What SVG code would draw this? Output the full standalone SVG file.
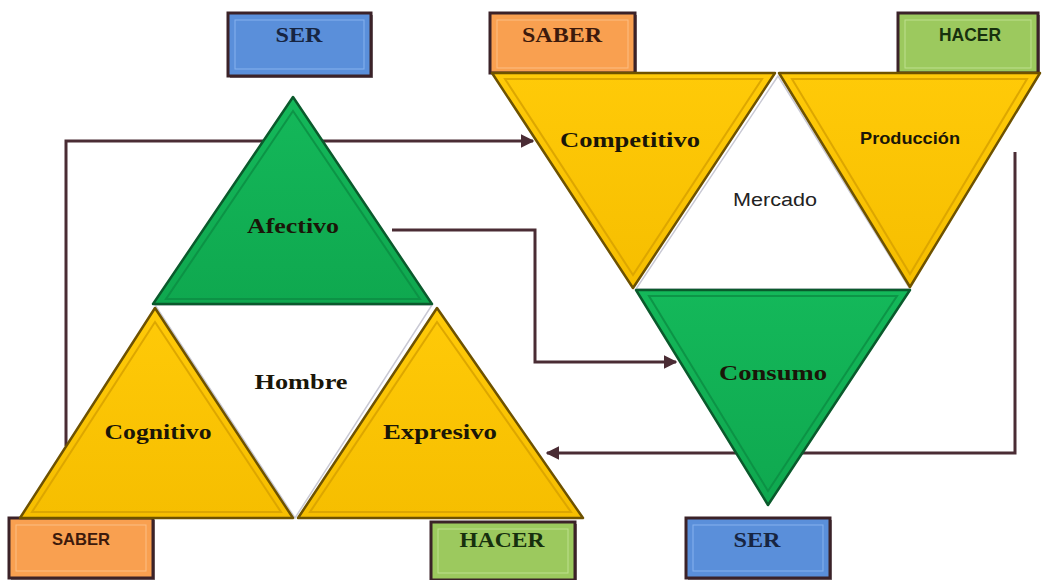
<svg xmlns="http://www.w3.org/2000/svg" width="1047" height="580" viewBox="0 0 1047 580">
<defs>
  <marker id="arr" viewBox="0 0 10 10" refX="9" refY="5" markerWidth="4.5" markerHeight="4.5" orient="auto" markerUnits="strokeWidth">
    <path d="M0,0 L10,5 L0,10 z" fill="#4a2c34"/>
  </marker>
  <linearGradient id="gY" x1="0" y1="0" x2="0" y2="1">
    <stop offset="0" stop-color="#FFCA08"/>
    <stop offset="1" stop-color="#F6BE00"/>
  </linearGradient>
  <linearGradient id="gG" x1="0" y1="0" x2="0" y2="1">
    <stop offset="0" stop-color="#14B85A"/>
    <stop offset="1" stop-color="#0FA84F"/>
  </linearGradient>
</defs>
<style>
  .con{fill:none;stroke:#4a2c34;stroke-width:3}
  .yel{fill:url(#gY);stroke:#6e5200;stroke-width:2.5;stroke-linejoin:round}
  .grn{fill:url(#gG);stroke:#0a5a2c;stroke-width:2.5;stroke-linejoin:round}
  .yin{fill:none;stroke:#D9A300;stroke-width:2;opacity:0.9}
  .gin{fill:none;stroke:#0B8C42;stroke-width:2;opacity:0.8}
  .wht{fill:#ffffff;stroke:#c9c9d4;stroke-width:1.5}
  .box{stroke:#3b2228;stroke-width:3}
  .sh{fill:#2a1a20;opacity:0.55}
  .blue{fill:#5A8FDA}
  .orng{fill:#F9A050}
  .lgrn{fill:#9CC95E}
  .inb{fill:none;stroke:#86B2EE;stroke-width:1}
  .ino{fill:none;stroke:#FCBE84;stroke-width:1}
  .ing{fill:none;stroke:#BEE08E;stroke-width:1}
  .serif{font-family:"Liberation Serif","Times New Roman",serif;font-weight:bold}
  .sans{font-family:"Liberation Sans",Arial,sans-serif;font-weight:bold}
  .lbl{fill:#1a1608;text-anchor:middle}
  .tser{fill:#172541;text-anchor:middle}
  .tsab{fill:#3d1a0c;text-anchor:middle}
  .thac{fill:#17300e;text-anchor:middle}
</style>

<g id="connectors">
  <polyline class="con" points="66,446 66,141 533,141" marker-end="url(#arr)"/>
  <polyline class="con" points="392,230 535,230 535,362 676,362" marker-end="url(#arr)"/>
  <polyline class="con" points="1015,152 1015,453 547,453" marker-end="url(#arr)"/>
</g>

<g id="box-ser-top">
  <rect class="sh" x="230" y="15" width="143" height="63"/>
  <rect class="box blue" x="228" y="13" width="143" height="63"/>
  <rect class="inb" x="235" y="20" width="129" height="49"/>
  <text class="serif tser" x="299" y="42" font-size="20" textLength="47" lengthAdjust="spacingAndGlyphs">SER</text>
</g>
<g id="box-saber-top">
  <rect class="sh" x="492" y="15" width="145" height="60"/>
  <rect class="box orng" x="490" y="13" width="145" height="60"/>
  <rect class="ino" x="497" y="20" width="131" height="48"/>
  <text class="serif tsab" x="562" y="42" font-size="20" textLength="80" lengthAdjust="spacingAndGlyphs">SABER</text>
</g>
<g id="box-hacer-top">
  <rect class="sh" x="900" y="15" width="140" height="60"/>
  <rect class="box lgrn" x="898" y="13" width="140" height="60"/>
  <rect class="ing" x="905" y="20" width="126" height="48"/>
  <text class="sans thac" x="970" y="41" font-size="18" textLength="62" lengthAdjust="spacingAndGlyphs">HACER</text>
</g>
<g id="box-saber-bottom">
  <rect class="sh" x="11" y="520" width="144" height="60"/>
  <rect class="box orng" x="9" y="518" width="144" height="60"/>
  <rect class="ino" x="16" y="525" width="130" height="46"/>
  <text class="sans tsab" x="81" y="545" font-size="17" textLength="58" lengthAdjust="spacingAndGlyphs">SABER</text>
</g>
<g id="box-hacer-bottom">
  <rect class="sh" x="433" y="524" width="144" height="58"/>
  <rect class="box lgrn" x="431" y="522" width="144" height="58"/>
  <rect class="ing" x="438" y="529" width="130" height="44"/>
  <text class="serif thac" x="502" y="547" font-size="21" textLength="85" lengthAdjust="spacingAndGlyphs">HACER</text>
</g>
<g id="box-ser-bottom">
  <rect class="sh" x="688" y="520" width="144" height="60"/>
  <rect class="box blue" x="686" y="518" width="144" height="60"/>
  <rect class="inb" x="693" y="525" width="130" height="46"/>
  <text class="serif tser" x="757" y="547" font-size="20" textLength="47" lengthAdjust="spacingAndGlyphs">SER</text>
</g>

<g id="hombre">
  <polygon class="wht" points="155,305 432,305 295,518"/>
  <text class="serif lbl" x="301" y="389" font-size="20" textLength="93" lengthAdjust="spacingAndGlyphs">Hombre</text>
</g>
<g id="afectivo">
  <polygon class="grn" points="293,97 432,304 153,304"/>
  <polygon class="gin" points="293,111 420,299 166,299"/>
  <text class="serif lbl" x="293" y="233" font-size="21" textLength="92" lengthAdjust="spacingAndGlyphs">Afectivo</text>
</g>
<g id="cognitivo">
  <polygon class="yel" points="155,308 293,518 20,518"/>
  <polygon class="yin" points="155,322 281,512 32,512"/>
  <text class="serif lbl" x="158" y="439" font-size="21" textLength="107" lengthAdjust="spacingAndGlyphs">Cognitivo</text>
</g>
<g id="expresivo">
  <polygon class="yel" points="437,308 583,518 298,518"/>
  <polygon class="yin" points="437,322 571,512 310,512"/>
  <text class="serif lbl" x="440" y="439" font-size="21" textLength="114" lengthAdjust="spacingAndGlyphs">Expresivo</text>
</g>

<g id="mercado">
  <polygon class="wht" points="778,76 910,289 636,289"/>
  <text x="775" y="206" font-size="18" font-family="Liberation Sans,Arial,sans-serif" fill="#222" text-anchor="middle" textLength="84" lengthAdjust="spacingAndGlyphs">Mercado</text>
</g>
<g id="competitivo">
  <polygon class="yel" points="492,73 775,73 633,288"/>
  <polygon class="yin" points="505,79 762,79 633,275"/>
  <text class="serif lbl" x="630" y="147" font-size="21" textLength="140" lengthAdjust="spacingAndGlyphs">Competitivo</text>
</g>
<g id="produccion">
  <polygon class="yel" points="779,73 1040,73 910,287"/>
  <polygon class="yin" points="792,79 1027,79 910,274"/>
  <text class="sans lbl" x="910" y="144" font-size="17" textLength="100" lengthAdjust="spacingAndGlyphs">Producción</text>
</g>
<g id="consumo">
  <polygon class="grn" points="636,290 910,290 768,505"/>
  <polygon class="gin" points="649,296 897,296 768,491"/>
  <text class="serif lbl" x="773" y="380" font-size="21" textLength="108" lengthAdjust="spacingAndGlyphs">Consumo</text>
</g>
</svg>
